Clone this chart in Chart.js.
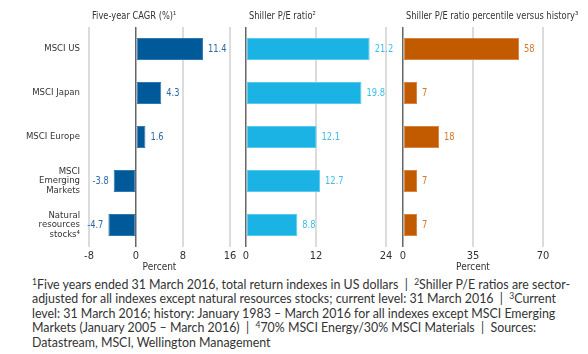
<!DOCTYPE html>
<html>
<head>
<meta charset="utf-8">
<script src="https://cdn.jsdelivr.net/npm/chart.js@4/dist/chart.umd.min.js"></script>
<style>
  html, body { margin: 0; padding: 0; background: #fff; }
  #wrap { position: relative; width: 588px; height: 354px; overflow: hidden; }
  canvas { position: absolute; top: 0; }
  #notes {
    position: absolute; left: 32px; top: 278px;
    font-family: Lato, "Open Sans", sans-serif; font-size: 12.4px; line-height: 14.4px;
    color: #333; white-space: nowrap;
  }
  #notes sup { font-size: 8.5px; vertical-align: 4px; line-height: 0; }
</style>
</head>
<body>
<div id="wrap">
  <canvas id="cagrChart" width="240" height="275" style="left:0px"></canvas>
  <canvas id="peChart" width="160" height="275" style="left:236px"></canvas>
  <canvas id="pctChart" width="195" height="275" style="left:393px"></canvas>
  <div id="notes">
    <sup>1</sup>Five years ended 31 March 2016, total return indexes in US dollars &nbsp;| &nbsp;<sup>2</sup>Shiller P/E ratios are sector-<br>
    adjusted for all indexes except natural resources stocks; current level: 31 March 2016 &nbsp;| &nbsp;<sup>3</sup>Current<br>
    level: 31 March 2016; history: January 1983 – March 2016 for all indexes except MSCI Emerging<br>
    Markets (January 2005 – March 2016) &nbsp;| &nbsp;<sup>4</sup>70% MSCI Energy/30% MSCI Materials &nbsp;| &nbsp;Sources:<br>
    Datastream, MSCI, Wellington Management
  </div>
</div>
<script>
const categories = [
  ["MSCI US"],
  ["MSCI Japan"],
  ["MSCI Europe"],
  ["MSCI", "Emerging", "Markets"],
  ["Natural", "resources", "stocks⁴"],
];
const cagr = [11.4, 4.3, 1.6, -3.8, -4.7];
const shillerPE = [21.2, 19.8, 12.1, 12.7, 8.8];
const percentile = [58, 7, 18, 7, 7];

const cagrTicks = [-8, 0, 8, 16];
const peTicks = [0, 12, 24];
const pctTicks = [0, 35, 70];

const narrow = "'Liberation Sans Narrow', 'DejaVu Sans Condensed', 'Roboto', sans-serif";

// the reference uses a condensed face, squeeze text horizontally
function narrowText(ctx, text, x, y, align) {
  const squeeze = 0.84;
  ctx.save();
  ctx.translate(x, y);
  ctx.scale(squeeze, 1);
  ctx.textAlign = align;
  ctx.fillText(text, 0, 0);
  ctx.restore();
}

// title above each panel, drawn at the plot's left edge
const panelTitle = {
  id: "panelTitle",
  afterDraw(chart, args, opts) {
    const ctx = chart.ctx;
    ctx.save();
    ctx.font = "11px " + narrow;
    ctx.fillStyle = "#333";
    ctx.textBaseline = "middle";
    narrowText(ctx, opts.text, chart.chartArea.left + 3, 16, "left");
    ctx.restore();
  },
};

// number at the end of each bar
const barValues = {
  id: "barValues",
  afterDatasetsDraw(chart, args, opts) {
    const ctx = chart.ctx;
    const ds = chart.data.datasets[0];
    ctx.save();
    ctx.font = "11px " + narrow;
    ctx.fillStyle = opts.color;
    ctx.textBaseline = "middle";
    chart.getDatasetMeta(0).data.forEach((bar, i) => {
      const v = ds.data[i];
      if (v < 0) {
        narrowText(ctx, String(v), bar.x - 5, bar.y, "right");
      } else {
        narrowText(ctx, String(v), bar.x + 5, bar.y, "left");
      }
    });
    ctx.restore();
  },
};

function makePanel(id, values, ticks, color, border, labelColor, title, opts) {
  const ctx = document.getElementById(id).getContext("2d");
  const yAxis = {
    display: opts.showCategories,
    border: { display: false },
    grid: { display: false, drawTicks: false },
    ticks: {
      padding: 9,
      color: "#333",
      font: { size: 9.5, lineHeight: 1.0, family: narrow },
    },
  };
  if (opts.showCategories) {
    yAxis.afterFit = (s) => { s.width = 89; };
  }
  return new Chart(ctx, {
    type: "bar",
    data: {
      labels: categories,
      datasets: [
        {
          data: values,
          backgroundColor: color,
          borderColor: border,
          borderWidth: 1,
          borderSkipped: false,
          barPercentage: 0.5,
          categoryPercentage: 1,
        },
      ],
    },
    options: {
      indexAxis: "y",
      responsive: false,
      animation: false,
      events: [],
      layout: { padding: { top: 27, left: opts.padLeft, right: opts.padRight, bottom: 0 } },
      plugins: {
        legend: { display: false },
        tooltip: { enabled: false },
        panelTitle: { text: title },
        barValues: { color: labelColor },
      },
      scales: {
        x: {
          min: ticks[0],
          max: ticks[ticks.length - 1],
          afterBuildTicks: (s) => { s.ticks = ticks.map((v) => ({ value: v })); },
          afterFit: (s) => { s.height = 28; },
          border: { display: false },
          grid: {
            drawTicks: false,
            color: (c) => (c.tick && c.tick.value === 0 ? "#666" : "#dcdcdc"),
            lineWidth: (c) => (c.tick && c.tick.value === 0 ? 1.5 : 2),
          },
          ticks: {
            padding: 3,
            color: "#333",
            font: { size: 11, family: narrow },
          },
          title: {
            display: opts.showUnit,
            text: "Percent",
            color: "#333",
            font: { size: 10, family: narrow },
            padding: { top: 0, bottom: 2 },
          },
        },
        y: yAxis,
      },
    },
    plugins: [panelTitle, barValues],
  });
}

makePanel("cagrChart", cagr, cagrTicks, "#005a99", "#2f78b0", "#2d69a6",
  "Five-year CAGR (%)¹", { padLeft: 0, padRight: 10, showUnit: true, showCategories: true });
makePanel("peChart", shillerPE, peTicks, "#1ab3e3", "#5cc9ee", "#3dbde8",
  "Shiller P/E ratio²", { padLeft: 10, padRight: 10, showUnit: false, showCategories: false });
makePanel("pctChart", percentile, pctTicks, "#c25a00", "#d98444", "#d4772a",
  "Shiller P/E ratio percentile versus history³", { padLeft: 10, padRight: 45, showUnit: true, showCategories: false });
</script>
</body>
</html>
